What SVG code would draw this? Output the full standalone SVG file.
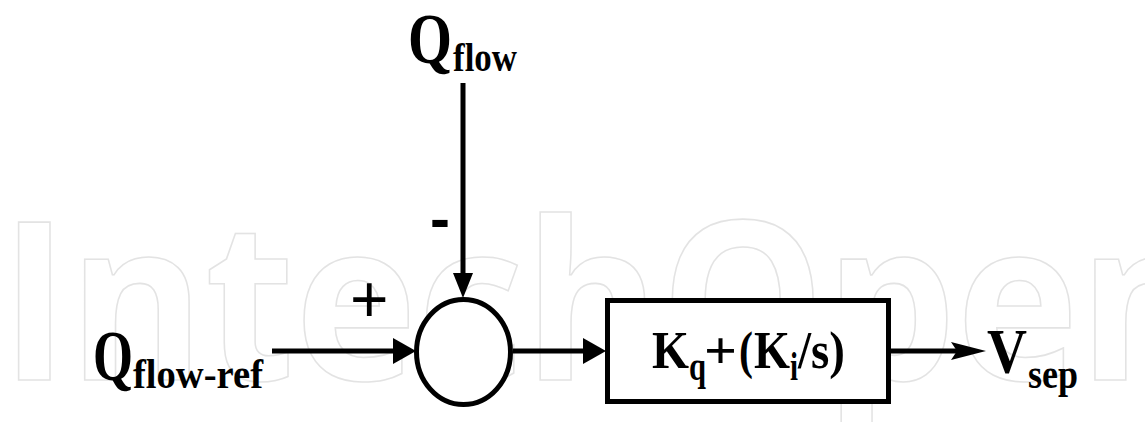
<svg xmlns="http://www.w3.org/2000/svg" width="1145" height="422" viewBox="0 0 1145 422">
<style>
.wm{font-family:"Open Sans","Lato",sans-serif;font-weight:bold;fill:none;stroke:#e3e3e3;stroke-width:1.6}
.t{font-family:"Liberation Serif","Times New Roman",serif;font-weight:bold;fill:#000}
.s{font-family:"Liberation Sans",Arial,sans-serif;fill:#000}
.ln{stroke:#000;stroke-width:5;fill:none}
.ah{fill:#000;stroke:none}
.shape{fill:#fff;stroke:#000;stroke-width:5}
</style>
<rect width="1145" height="422" fill="#fff"/>
<g id="watermark">
<text class="wm" x="0" y="380" font-size="221" textLength="1215" lengthAdjust="spacingAndGlyphs">IntechOpen</text>
</g>
<g id="connectors">
<line class="ln" x1="463" y1="83" x2="463" y2="276"/>
<polygon class="ah" points="453,273 473,273 463,298"/>
<line class="ln" x1="272" y1="351" x2="396" y2="351"/>
<polygon class="ah" points="393,338 393,364 416,351"/>
<line class="ln" x1="513" y1="351" x2="586" y2="351"/>
<polygon class="ah" points="583,338 583,364 606,351"/>
<line class="ln" x1="891" y1="351" x2="960" y2="351"/>
<polygon class="ah" points="951,342 986,351 951,360 957,351"/>
</g>
<g id="sum">
<ellipse class="shape" cx="463.5" cy="352" rx="47" ry="52.5"/>
<text class="s" x="350" y="322" font-size="66">+</text>
<text class="s" x="430" y="239" font-size="60" font-weight="bold">-</text>
</g>
<g id="controller">
<rect class="shape" x="607.5" y="300.5" width="281" height="101"/>
<text class="t" font-size="53" y="368"><tspan x="652" textLength="37" lengthAdjust="spacingAndGlyphs">K</tspan></text>
<text class="t" font-size="40" y="380"><tspan x="689" textLength="17" lengthAdjust="spacingAndGlyphs">q</tspan></text>
<text class="t" font-size="53" y="368"><tspan x="704" textLength="33" lengthAdjust="spacingAndGlyphs">+</tspan></text>
<text class="t" font-size="53" y="368"><tspan x="739" textLength="14" lengthAdjust="spacingAndGlyphs">(</tspan></text>
<text class="t" font-size="53" y="368"><tspan x="754" textLength="36" lengthAdjust="spacingAndGlyphs">K</tspan></text>
<text class="t" font-size="40" y="380"><tspan x="790" textLength="8" lengthAdjust="spacingAndGlyphs">i</tspan></text>
<text class="t" font-size="53" y="368"><tspan x="798" textLength="47" lengthAdjust="spacingAndGlyphs">/s)</tspan></text>
</g>
<g id="q-flow">
<text class="t" x="408" y="63" font-size="72" textLength="44" lengthAdjust="spacingAndGlyphs">Q</text>
<text class="t" x="453" y="71" font-size="41" textLength="64" lengthAdjust="spacingAndGlyphs">flow</text>
</g>
<g id="q-flow-ref">
<text class="t" x="93" y="380" font-size="72" textLength="40" lengthAdjust="spacingAndGlyphs">Q</text>
<text class="t" x="133" y="388" font-size="42" textLength="130" lengthAdjust="spacingAndGlyphs">flow-ref</text>
</g>
<g id="v-sep">
<text class="t" x="987" y="373" font-size="64" textLength="40" lengthAdjust="spacingAndGlyphs">V</text>
<text class="t" x="1028" y="388" font-size="42" textLength="50" lengthAdjust="spacingAndGlyphs">sep</text>
</g>
</svg>
